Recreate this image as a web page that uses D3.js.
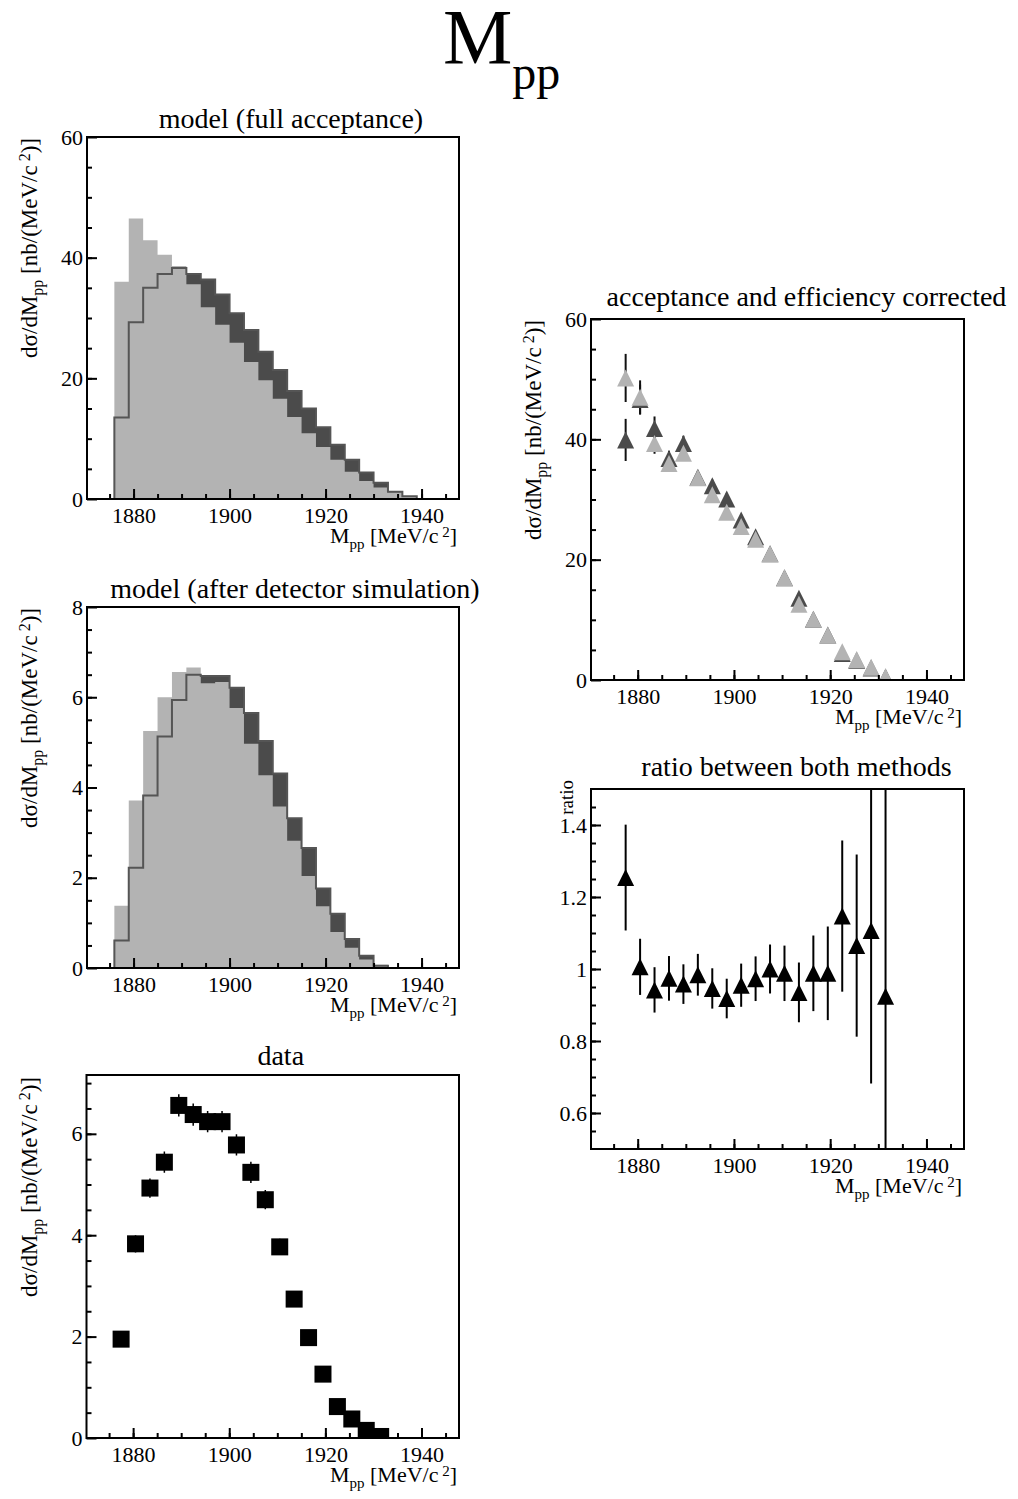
<!DOCTYPE html>
<html>
<head>
<meta charset="utf-8">
<script src="https://cdn.jsdelivr.net/npm/d3@7"></script>
<style>
  body { margin: 0; background: #fff; }
  text { font-family: "Liberation Serif", "Times New Roman", serif; fill: #000; }
</style>
</head>
<body>
<div id="chart"></div>
<script>
// bin centres of the 3 MeV wide M_pp bins
const binCenters = [1877.5, 1880.5, 1883.5, 1886.5, 1889.5, 1892.5, 1895.5, 1898.5, 1901.5, 1904.5,
                    1907.5, 1910.5, 1913.5, 1916.5, 1919.5, 1922.5, 1925.5, 1928.5, 1931.5, 1934.5, 1937.5];
const binWidth = 3;

// model (full acceptance): light filled histogram and dark outlined histogram
const fullLight = [36.0, 46.5, 42.9, 40.5, 38.6, 35.6, 31.8, 28.9, 25.9, 22.7, 19.7, 16.6, 13.6, 10.9, 8.6, 6.5, 4.5, 3.0, 1.9, 1.1, 0.4];
const fullDark  = [13.5, 29.3, 35.0, 37.3, 38.3, 37.3, 36.4, 33.9, 30.8, 28.0, 24.4, 21.4, 17.9, 15.0, 11.9, 9.0, 6.5, 4.4, 2.7, 1.2, 0.45];

// model (after detector simulation)
const simLight = [1.38, 3.71, 5.25, 6.00, 6.56, 6.66, 6.31, 6.34, 5.76, 4.97, 4.27, 3.58, 2.82, 2.04, 1.37, 0.80, 0.45, 0.19, 0.07, 0, 0];
const simDark  = [0.61, 2.22, 3.82, 5.13, 5.94, 6.50, 6.47, 6.47, 6.21, 5.65, 5.03, 4.31, 3.32, 2.66, 1.76, 1.20, 0.64, 0.27, 0.05, 0, 0];

// data (first 19 bins)
const dataVals = [1.95, 3.83, 4.93, 5.44, 6.56, 6.38, 6.24, 6.24, 5.78, 5.24, 4.70, 3.77, 2.74, 1.98, 1.26, 0.62, 0.375, 0.15, 0.03];
const dataErrs = [0.12, 0.17, 0.19, 0.21, 0.22, 0.22, 0.21, 0.21, 0.21, 0.21, 0.19, 0.16, 0.13, 0.10, 0.08, 0.05, 0.04, 0.02, 0.01];

// acceptance and efficiency corrected (two methods)
const corrLight    = [50.2, 47.0, 39.3, 36.0, 37.7, 33.6, 30.8, 27.9, 25.5, 23.4, 21.0, 17.0, 12.6, 10.1, 7.5, 4.7, 3.4, 2.1, 0.55];
const corrLightErr = [4.0, 2.8, 1.7, 1.3, 1.2, 1.0, 1.0, 0.9, 0.9, 0.8, 0.8, 0.7, 0.6, 0.5, 0.4, 0.3, 0.3, 0.2, 0.1];
const corrDark     = [39.9, 46.6, 41.8, 36.8, 39.3, 33.7, 32.3, 30.1, 26.6, 23.8, 21.0, 17.0, 13.6, 10.1, 7.5, 4.4, 3.3, 2.0, 0.5];
const corrDarkErr  = [3.5, 2.5, 2.0, 1.3, 1.3, 1.1, 1.0, 1.0, 0.9, 0.8, 0.8, 0.7, 0.6, 0.5, 0.4, 0.3, 0.3, 0.2, 0.1];

// ratio between both methods
const ratioVals = [1.254, 1.006, 0.942, 0.974, 0.958, 0.984, 0.946, 0.918, 0.955, 0.973, 1.0, 0.988, 0.935, 0.988, 0.988, 1.147, 1.065, 1.107, 0.924];
const ratioErrs = [0.147, 0.078, 0.063, 0.062, 0.055, 0.058, 0.056, 0.055, 0.060, 0.062, 0.068, 0.077, 0.083, 0.105, 0.130, 0.210, 0.253, 0.425, 0.9];

// tick labels
const xTicks = [1880, 1900, 1920, 1940];
const yTicksXsec = [0, 20, 40, 60];
const yTicksSim = [0, 2, 4, 6, 8];
const yTicksData = [0, 2, 4, 6];
const yTicksRatio = [0.6, 0.8, 1, 1.2, 1.4];

const lightGrey = "#b3b3b3";
const darkGrey = "#4b4b4b";

const svg = d3.select("#chart").append("svg")
    .attr("width", 1018)
    .attr("height", 1499);

// big title
const title = svg.append("text").attr("x", 443).attr("y", 63);
title.append("tspan").style("font-size", "78px").text("M");
title.append("tspan").style("font-size", "48px").attr("dy", 26).text("pp");

let clipId = 0;

function makePanel(box, yDomain, yMajor, yMinorStep, titleText, yLabelNodes, yLabelSize) {
    const g = svg.append("g").attr("transform", "translate(" + box.left + "," + box.top + ")");

    const x = d3.scaleLinear().domain([1870.3, 1947.8]).range([0, box.width]);
    const y = d3.scaleLinear().domain(yDomain).range([box.height, 0]);

    clipId++;
    svg.append("clipPath").attr("id", "clip" + clipId)
        .append("rect").attr("x", box.left).attr("y", box.top).attr("width", box.width).attr("height", box.height);
    const plot = g.append("g").attr("clip-path", "url(#clip" + clipId + ")")
        .attr("transform", "translate(" + (-box.left) + "," + (-box.top) + ")")
        .append("g").attr("transform", "translate(" + box.left + "," + box.top + ")");

    // panel title
    g.append("text")
        .attr("x", box.width / 2 + (box.titleShift || 0))
        .attr("y", box.titleY)
        .attr("text-anchor", "middle")
        .style("font-size", "28px")
        .text(titleText);

    // y axis label
    const yl = g.append("text")
        .attr("transform", "translate(" + (box.yLabelX) + "," + (box.yLabelEnd) + ") rotate(-90)")
        .attr("text-anchor", "end")
        .style("font-size", yLabelSize + "px");
    yLabelNodes.forEach(function (n) {
        const t = yl.append("tspan").text(n.t);
        if (n.size) t.style("font-size", n.size + "px");
        if (n.dy) t.attr("dy", n.dy);
    });

    return { g: g, plot: plot, x: x, y: y, box: box, yDomain: yDomain, yMajor: yMajor, yMinorStep: yMinorStep };
}

function finishPanel(p) {
    const g = p.g, x = p.x, y = p.y, box = p.box;

    // frame
    g.append("rect")
        .attr("width", box.width).attr("height", box.height)
        .attr("fill", "none").attr("stroke", "#000").attr("stroke-width", 2);

    const xMinor = d3.range(1875, 1947, 5);
    const yMinor = d3.range(0, 200).map(i => +(p.yDomain[0] + i * p.yMinorStep).toFixed(4))
        .filter(v => v > p.yDomain[0] && v < p.yDomain[1]);

    function styleAxis(sel) {
        sel.select(".domain").remove();
        sel.selectAll("line").attr("stroke", "#000").attr("stroke-width", 2);
        sel.selectAll("text").style("font-size", "22px")
            .style("font-family", "'Liberation Serif', 'Times New Roman', serif").attr("fill", "#000");
    }

    g.append("g").attr("transform", "translate(0," + box.height + ")")
        .call(d3.axisBottom(x).tickValues(xMinor).tickSize(-5).tickFormat(""))
        .call(styleAxis);
    g.append("g").attr("transform", "translate(0," + box.height + ")")
        .call(d3.axisBottom(x).tickValues(xTicks).tickSize(-10).tickPadding(8).tickFormat(d3.format("d")))
        .call(styleAxis);
    g.append("g")
        .call(d3.axisLeft(y).tickValues(yMinor).tickSize(-5).tickFormat(""))
        .call(styleAxis);
    g.append("g")
        .call(d3.axisLeft(y).tickValues(p.yMajor).tickSize(-10).tickPadding(4).tickFormat(d => String(d)))
        .call(styleAxis);

    // x axis title
    const xt = g.append("text")
        .attr("x", box.width - 2)
        .attr("y", box.height + 44)
        .attr("text-anchor", "end")
        .style("font-size", "22px");
    xt.append("tspan").text("M");
    xt.append("tspan").style("font-size", "15px").attr("dy", 6).text("pp");
    xt.append("tspan").attr("dy", -6).text(" [MeV/c");
    xt.append("tspan").style("font-size", "15px").attr("dy", -6).text(" 2");
    xt.append("tspan").attr("dy", 6).text("]");
}

const xsecLabel = [
    { t: "d\u03c3/dM" },
    { t: "pp", size: 16, dy: 6 },
    { t: " [nb/(MeV/c", dy: -6 },
    { t: " 2", size: 16, dy: -7 },
    { t: ")]", dy: 7 }
];

function drawHist(p, light, dark) {
    const x = p.x, y = p.y;
    const pts = (vals) => {
        const arr = binCenters.map((c, i) => ({ x: c - binWidth / 2, v: vals[i] }));
        arr.push({ x: binCenters[binCenters.length - 1] + binWidth / 2, v: vals[vals.length - 1] });
        return arr;
    };
    const area = d3.area().curve(d3.curveStepAfter)
        .x(d => x(d.x)).y0(y(0)).y1(d => y(d.v));
    const line = d3.line().curve(d3.curveStepAfter)
        .x(d => x(d.x)).y(d => y(d.v));

    p.plot.append("path").datum(pts(dark)).attr("d", area).attr("fill", darkGrey);
    p.plot.append("path").datum(pts(light)).attr("d", area).attr("fill", lightGrey);

    const outline = [{ x: binCenters[0] - binWidth / 2, v: 0 }].concat(pts(dark));
    outline.push({ x: binCenters[binCenters.length - 1] + binWidth / 2, v: 0 });
    p.plot.append("path").datum(outline).attr("d", line)
        .attr("fill", "none").attr("stroke", "#555").attr("stroke-width", 2);
}

function triPath(cx, cy) {
    return "M" + (cx - 8.5) + "," + (cy + 8.5) + "L" + (cx + 8.5) + "," + (cy + 8.5) + "L" + cx + "," + (cy - 8.5) + "Z";
}

function drawErrors(p, vals, errs, color, width) {
    p.plot.selectAll(null).data(vals).enter().append("line")
        .attr("x1", (d, i) => p.x(binCenters[i]))
        .attr("x2", (d, i) => p.x(binCenters[i]))
        .attr("y1", (d, i) => p.y(d - errs[i]))
        .attr("y2", (d, i) => p.y(d + errs[i]))
        .attr("stroke", color).attr("stroke-width", width);
}

function drawTriangles(p, vals, color) {
    p.plot.selectAll(null).data(vals).enter().append("path")
        .attr("d", (d, i) => triPath(p.x(binCenters[i]), p.y(d)))
        .attr("fill", color);
}

// ---- top left: model (full acceptance)
const pFull = makePanel({ left: 87, top: 137, width: 372, height: 362, yLabelX: -50, yLabelEnd: 1, titleShift: 18, titleY: -9 },
    [0, 60], yTicksXsec, 5, "model (full acceptance)", xsecLabel, 23);
drawHist(pFull, fullLight, fullDark);
finishPanel(pFull);

// ---- middle left: model (after detector simulation)
const pSim = makePanel({ left: 87, top: 607, width: 372, height: 361, yLabelX: -50, yLabelEnd: 1, titleShift: 22, titleY: -9 },
    [0, 8], yTicksSim, 0.5, "model (after detector simulation)", xsecLabel, 23);
drawHist(pSim, simLight, simDark);
finishPanel(pSim);

// ---- bottom left: data
const pData = makePanel({ left: 86.5, top: 1075, width: 372.5, height: 363, yLabelX: -49.5, yLabelEnd: 2, titleShift: 8, titleY: -10 },
    [0, 7.16], yTicksData, 0.5, "data", xsecLabel, 23);
drawErrors(pData, dataVals, dataErrs, "#000", 1.5);
pData.plot.selectAll(null).data(dataVals).enter().append("rect")
    .attr("x", (d, i) => pData.x(binCenters[i]) - 8.5)
    .attr("y", d => pData.y(d) - 8.5)
    .attr("width", 17).attr("height", 17)
    .attr("fill", "#000");
finishPanel(pData);

// ---- top right: acceptance and efficiency corrected
const pCorr = makePanel({ left: 591, top: 319, width: 373, height: 361, yLabelX: -50, yLabelEnd: 1, titleShift: 29, titleY: -13 },
    [0, 60], yTicksXsec, 5, "acceptance and efficiency corrected", xsecLabel, 23);
drawErrors(pCorr, corrDark, corrDarkErr, "#111", 2);
drawErrors(pCorr, corrLight, corrLightErr, "#111", 2);
drawTriangles(pCorr, corrDark, darkGrey);
drawTriangles(pCorr, corrLight, lightGrey);
finishPanel(pCorr);

// ---- bottom right: ratio
const pRatio = makePanel({ left: 591, top: 789, width: 373, height: 360, yLabelX: -18, yLabelEnd: -9, titleShift: 19, titleY: -13 },
    [0.5, 1.5], yTicksRatio, 0.05, "ratio between both methods", [{ t: "ratio" }], 19);
drawErrors(pRatio, ratioVals, ratioErrs, "#000", 2);
drawTriangles(pRatio, ratioVals, "#000");
finishPanel(pRatio);
</script>
</body>
</html>
